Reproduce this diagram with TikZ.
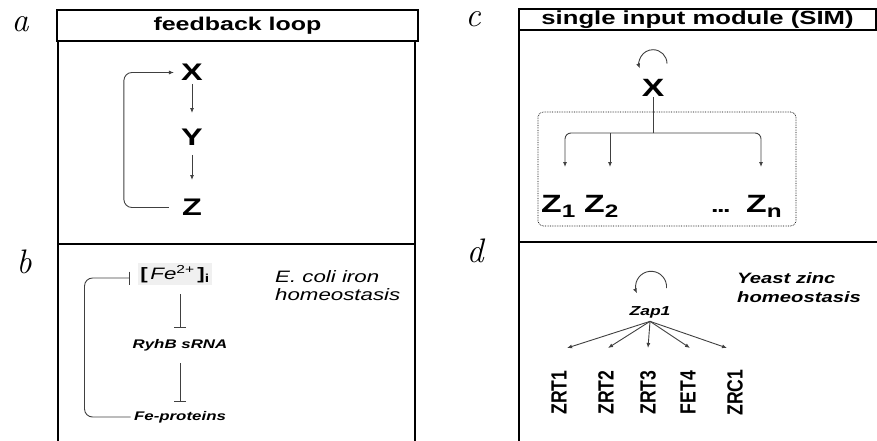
\documentclass[tikz,border=0pt]{standalone}
\usepackage{fontspec}
\usetikzlibrary{arrows.meta}
\newfontfamily\widesf[FakeStretch=1.35]{Liberation Sans}
\newfontfamily\narrowsf[FakeStretch=0.8]{Liberation Sans}
\newcommand\fsz[1]{\fontsize{#1}{#1}\selectfont}
\newcommand\zsub[1]{\raisebox{-5pt}{\fsz{18}#1}}

\begin{document}
\begin{tikzpicture}[x=1pt,y=1pt,
    frame/.style={line width=2.4pt},
    title/.style={font=\widesf\bfseries\fsz{#1}},
    lbl/.style={font=\itshape\fsz{34},inner sep=1pt},
    big/.style={font=\widesf\bfseries\fsz{#1},inner sep=1pt},
    gene/.style={font=\narrowsf\bfseries\fsz{22},rotate=90,inner sep=1pt},
    conn/.style={draw=black!75,line width=0.9pt},
    arr/.style={conn,-{Latex[length=5pt,width=4pt]}},
    inh/.style={conn,-{Bar[width=12pt,line width=0.9pt]}}]

\useasboundingbox (0,0) rectangle (877,440);

% frames
\draw[frame] (57,399) rectangle (418,430);
\draw[frame] (58,-3) -- (58,399) (415,-3) -- (415,399) (58,196) -- (415,196);
\draw[frame] (519,410) rectangle (876,431);
\draw[frame] (519,-3) -- (519,410) (519,198) -- (880,198);

\node[title=18.5] (ttla) at (237.5,414.5) {feedback loop};
\node[title=19] (ttlc) at (697.5,420.5) {single input module (SIM)};

\node[lbl] (la) at (20,416) {a};
\node[lbl] (lb) at (24,178) {b};
\node[lbl] (lc) at (473,421) {c};
\node[lbl] (ld) at (475,189) {d};

% a: feedback loop
\node[big=24] (X) at (192,367.5) {X};
\node[big=24] (Y) at (192,302.5) {Y};
\node[big=24] (Z) at (192,232.5) {Z};
\draw[arr,shorten <=2pt,shorten >=15pt] (X) -- (Y);
\draw[arr,shorten <=8pt,shorten >=18pt] (Y) -- (Z);
\draw[arr,rounded corners=8pt,shorten <=12pt,shorten >=6pt] (Z.west) -- ++(-57,0) |- (X.west);

% b: E. coli iron homeostasis
\node[font=\widesf\fsz{16.5},fill=black!6,inner sep=2pt] (fe) at (175,166)
    {\textbf{[}\,\textit{Fe}\textsuperscript{2+}\,\textbf{]}\textsubscript{\textbf{i}}};
\node[font=\widesf\bfseries\itshape\fsz{12.5}] (ryhb) at (180,95) {RyhB sRNA};
\node[font=\widesf\bfseries\itshape\fsz{12.5}] (feprot) at (180,23) {Fe-proteins};
\draw[inh,shorten <=9pt,shorten >=8pt] (ryhb.north |- fe.south) -- (ryhb.north);
\draw[inh,shorten <=9pt,shorten >=6pt] (ryhb.south) -- (feprot.north);
\draw[conn,-{Bar[width=13pt,line width=0.9pt]},rounded corners=8pt,shorten >=8pt]
    (feprot.west) -- ++(-46,0) |- ([yshift=-4pt]fe.west);
\node[font=\widesf\itshape\fontsize{16.5}{18}\selectfont,align=left,anchor=north west,inner sep=0pt]
    (ecoli) at (275,170) {E. coli iron\\homeostasis};

% c: single input module
\node[big=25] (cX) at (653,352.5) {X};
\draw[arr] ([shift={(14pt,14pt)}]cX.north) arc[start angle=0,end angle=200,radius=14pt];
\draw[densely dotted,line width=0.7pt,rounded corners=5pt] (538,214) rectangle (796,328);
\coordinate (hub) at (653,307);
\coordinate (t1) at (565,273);
\coordinate (t2) at (610,273);
\coordinate (tn) at (761,273);
\draw[conn] (cX.south) -- (hub);
\draw[arr,rounded corners=6pt] (hub) -| (t1);
\draw[arr,rounded corners=6pt] (hub) -| (tn);
\draw[arr] (hub -| t2) -- (t2);
\node[big=25,anchor=base west] (z1) at (540,228) {Z\zsub{1}};
\node[big=25,anchor=base west] (z2) at (583,228) {Z\zsub{2}};
\node[big=20,anchor=base west] (dots) at (710,228) {.\kern-1.5pt.\kern-1.5pt.};
\node[big=25,anchor=base west] (zn) at (745,228) {Z\zsub{n}};

% d: yeast zinc homeostasis
\node[font=\widesf\bfseries\itshape\fsz{13}] (zap) at (650,128) {Zap1};
\draw[arr] ([shift={(16.5pt,14.5pt)}]zap.north) arc[start angle=-5,end angle=205,radius=15.5pt];
\foreach \tx [count=\i] in {567,608,648,690,727} {
    \coordinate (tip\i) at (\tx,92);
    \draw[arr] (zap.south) -- (tip\i);
}
\foreach \gx/\gn [count=\i] in {559/ZRT1,606/ZRT2,648/ZRT3,688/FET4,735/ZRC1}
    \node[gene] (gene\i) at (\gx,47.5) {\gn};
\node[font=\widesf\bfseries\itshape\fontsize{15}{19}\selectfont,align=left,anchor=north west,inner sep=0pt]
    (yeast) at (737,168) {Yeast zinc\\homeostasis};

\end{tikzpicture}
\end{document}
